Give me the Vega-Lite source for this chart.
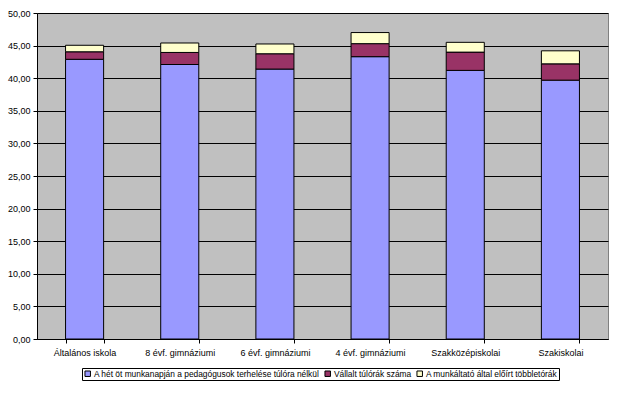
{
  "$schema": "https://vega.github.io/schema/vega-lite/v6.json",
  "width": 571,
  "height": 326,
  "autosize": "none",
  "padding": {"left": 37, "top": 13, "right": 22, "bottom": 54},
  "background": "white",
  "config": {
    "font": "Liberation Sans",
    "view": {"fill": "#C0C0C0", "stroke": "#808080", "strokeWidth": 1}
  },
  "data": {
    "values": [
      {"school": "Általános iskola", "series": "A hét öt munkanapján a pedagógusok terhelése túlóra nélkül", "ord": 1, "value": 42.9},
      {"school": "Általános iskola", "series": "Vállalt túlórák száma", "ord": 2, "value": 1.15},
      {"school": "Általános iskola", "series": "A munkáltató által előírt többletórák", "ord": 3, "value": 1.0},
      {"school": "8 évf. gimnáziumi", "series": "A hét öt munkanapján a pedagógusok terhelése túlóra nélkül", "ord": 1, "value": 42.1},
      {"school": "8 évf. gimnáziumi", "series": "Vállalt túlórák száma", "ord": 2, "value": 1.85},
      {"school": "8 évf. gimnáziumi", "series": "A munkáltató által előírt többletórák", "ord": 3, "value": 1.45},
      {"school": "6 évf. gimnáziumi", "series": "A hét öt munkanapján a pedagógusok terhelése túlóra nélkül", "ord": 1, "value": 41.4},
      {"school": "6 évf. gimnáziumi", "series": "Vállalt túlórák száma", "ord": 2, "value": 2.35},
      {"school": "6 évf. gimnáziumi", "series": "A munkáltató által előírt többletórák", "ord": 3, "value": 1.5},
      {"school": "4 évf. gimnáziumi", "series": "A hét öt munkanapján a pedagógusok terhelése túlóra nélkül", "ord": 1, "value": 43.3},
      {"school": "4 évf. gimnáziumi", "series": "Vállalt túlórák száma", "ord": 2, "value": 2.0},
      {"school": "4 évf. gimnáziumi", "series": "A munkáltató által előírt többletórák", "ord": 3, "value": 1.7},
      {"school": "Szakközépiskolai", "series": "A hét öt munkanapján a pedagógusok terhelése túlóra nélkül", "ord": 1, "value": 41.2},
      {"school": "Szakközépiskolai", "series": "Vállalt túlórák száma", "ord": 2, "value": 2.8},
      {"school": "Szakközépiskolai", "series": "A munkáltató által előírt többletórák", "ord": 3, "value": 1.5},
      {"school": "Szakiskolai", "series": "A hét öt munkanapján a pedagógusok terhelése túlóra nélkül", "ord": 1, "value": 39.7},
      {"school": "Szakiskolai", "series": "Vállalt túlórák száma", "ord": 2, "value": 2.5},
      {"school": "Szakiskolai", "series": "A munkáltató által előírt többletórák", "ord": 3, "value": 2.0}
    ]
  },
  "mark": {"type": "bar", "stroke": "black", "strokeWidth": 1},
  "encoding": {
    "x": {
      "field": "school",
      "type": "nominal",
      "sort": null,
      "scale": {"paddingInner": 0.6, "paddingOuter": 0.3},
      "axis": {
        "title": null,
        "labelAngle": 0,
        "labelFontSize": 9,
        "labelColor": "black",
        "labelPadding": 5,
        "tickBand": "extent",
        "tickColor": "black",
        "tickSize": 4,
        "domainColor": "black",
        "grid": false
      }
    },
    "y": {
      "field": "value",
      "type": "quantitative",
      "aggregate": "sum",
      "stack": "zero",
      "scale": {"domain": [0, 50], "nice": false},
      "axis": {
        "title": null,
        "values": [0, 5, 10, 15, 20, 25, 30, 35, 40, 45, 50],
        "labelExpr": "replace(format(datum.value, '.2f'), '.', ',')",
        "labelFontSize": 9,
        "labelColor": "black",
        "labelPadding": 3,
        "tickColor": "black",
        "tickSize": 4,
        "domainColor": "black",
        "grid": true,
        "gridColor": "black",
        "gridOpacity": 1,
        "gridWidth": 1
      }
    },
    "color": {
      "field": "series",
      "type": "nominal",
      "scale": {
        "domain": ["A hét öt munkanapján a pedagógusok terhelése túlóra nélkül", "Vállalt túlórák száma", "A munkáltató által előírt többletórák"],
        "range": ["#9999FF", "#993366", "#FFFFCC"]
      },
      "legend": {
        "title": null,
        "orient": "none",
        "legendX": 45,
        "legendY": 355,
        "direction": "horizontal",
        "symbolType": "square",
        "symbolSize": 30,
        "symbolStrokeColor": "black",
        "symbolStrokeWidth": 1,
        "labelFontSize": 8.4,
        "labelColor": "black",
        "labelLimit": 400,
        "columnPadding": 3,
        "symbolOffset": 0,
        "labelOffset": 2,
        "strokeColor": "black",
        "fillColor": "white",
        "padding": 1.5
      }
    },
    "order": {"field": "ord", "type": "quantitative"}
  }
}
